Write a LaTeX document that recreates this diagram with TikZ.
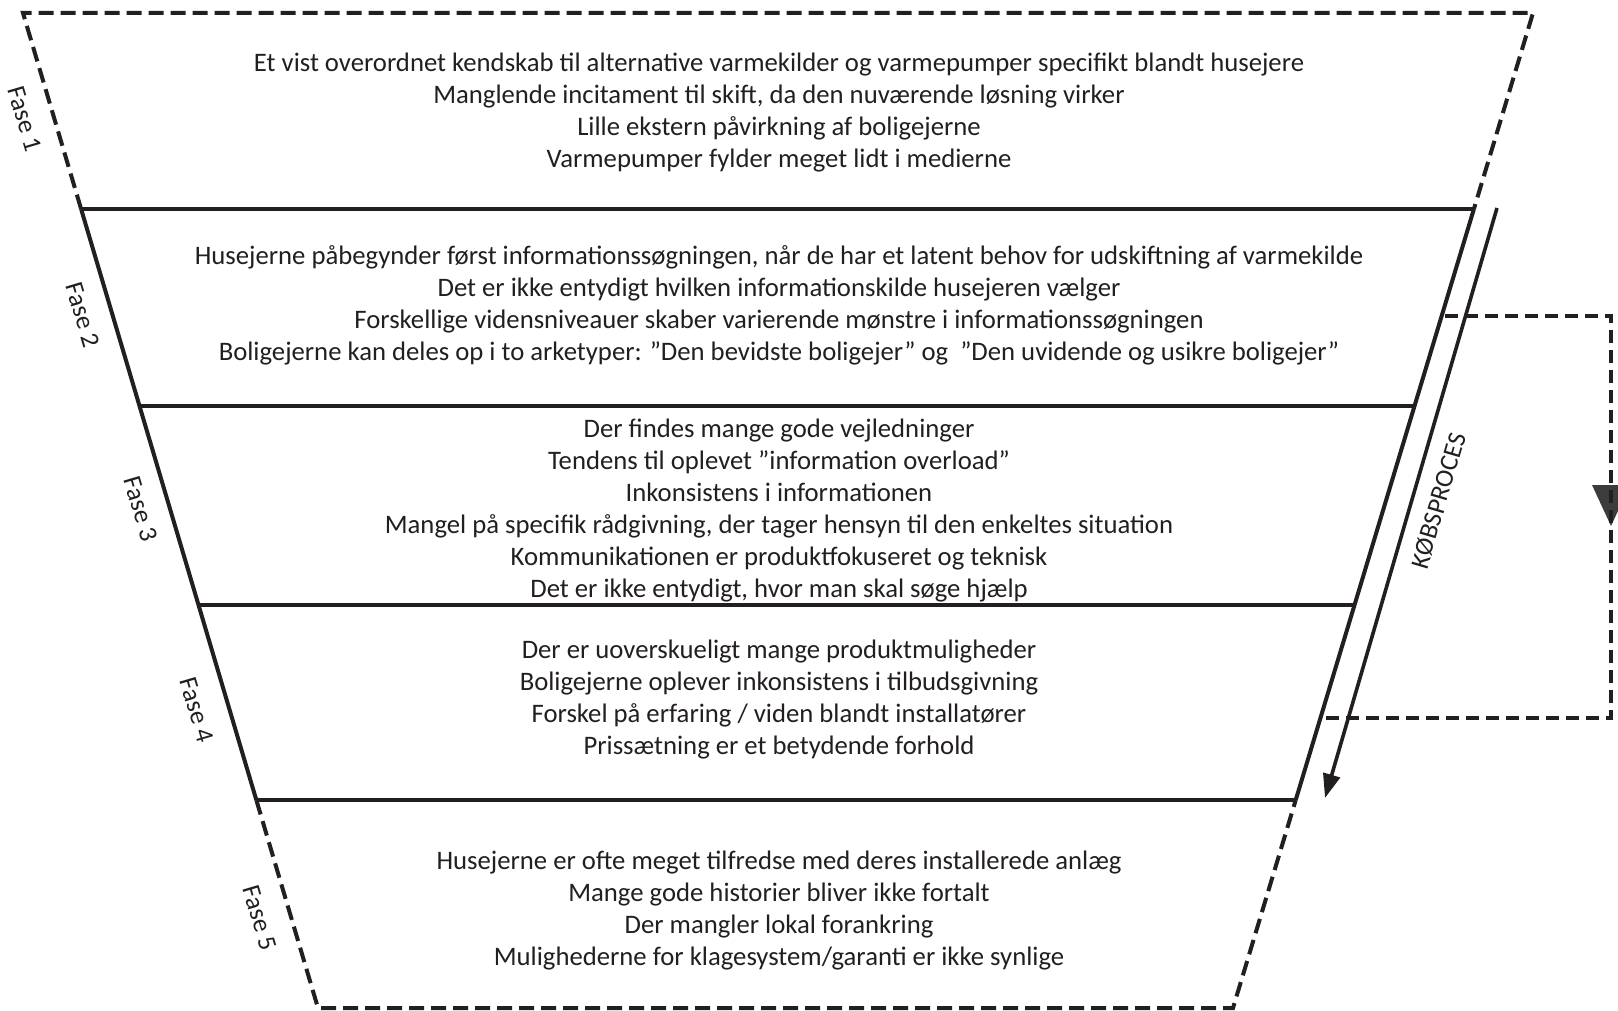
\documentclass[tikz,border=0pt]{standalone}
\usepackage{fontspec}
\setmainfont{Carlito}
\usetikzlibrary{calc,arrows.meta}
\definecolor{ink}{HTML}{231F20}
\definecolor{headgray}{HTML}{3C3C3C}
\begin{document}
\begin{tikzpicture}[x=1pt,y=-1pt,
  edge/.style={line width=4pt,draw=ink},
  dashedge/.style={line width=4pt,draw=ink,dash pattern=on 15pt off 7pt},
  looppath/.style={line width=3.6pt,draw=ink,dash pattern=on 13pt off 7pt},
  phasetext/.style={align=center,font=\fontsize{26.7}{32}\selectfont,text=ink,inner sep=0pt},
  phaselabel/.style={font=\fontsize{26}{30}\selectfont,text=ink,inner sep=0pt,rotate=-73.5},
  proclabel/.style={font=\fontsize{26}{30}\selectfont,text=ink,inner sep=0pt,rotate=73.7}]
\useasboundingbox[fill=white] (0,0) rectangle (1618,1011);

% funnel corners
\coordinate (TL) at (23,13);
\coordinate (TR) at (1533,13);
\coordinate (BL) at (318,1008);
\coordinate (BR) at (1233,1008);

% phase boundaries on both sides
\coordinate (L1) at ($(TL)!0.197!(BL)$);
\coordinate (R1) at ($(TR)!0.197!(BR)$);
\coordinate (L2) at ($(TL)!0.395!(BL)$);
\coordinate (R2) at ($(TR)!0.395!(BR)$);
\coordinate (L3) at ($(TL)!0.595!(BL)$);
\coordinate (R3) at ($(TR)!0.595!(BR)$);
\coordinate (L4) at ($(TL)!0.791!(BL)$);
\coordinate (R4) at ($(TR)!0.791!(BR)$);

% outer dashed parts
\draw[dashedge,line join=miter] (L1) -- (TL) -- (TR) -- (R1);
\draw[dashedge,line join=miter] (L4) -- (BL) -- (BR) -- (R4);
% solid sides
\draw[edge] (L1) -- (L4);
\draw[edge] (R1) -- (R4);
% dividers
\draw[edge] (L1) -- (R1);
\draw[edge] (L2) -- (R2);
\draw[edge] (L3) -- (R3);
\draw[edge] (L4) -- (R4);

% phase labels
\node[phaselabel] (f1) at (25,119) {Fase 1};
\node[phaselabel] (f2) at (83,315) {Fase 2};
\node[phaselabel] (f3) at (141,509) {Fase 3};
\node[phaselabel] (f4) at (197,710) {Fase 4};
\node[phaselabel] (f5) at (260,918) {Fase 5};

% phase contents
\node[phasetext] (p1) at (779,113) {Et vist overordnet kendskab til alternative varmekilder og varmepumper specifikt blandt husejere\\
Manglende incitament til skift, da den nuværende løsning virker\\
Lille ekstern påvirkning af boligejerne\\
Varmepumper fylder meget lidt i medierne};
\node[phasetext] (p2) at (779,305) {Husejerne påbegynder først informationssøgningen, når de har et latent behov for udskiftning af varmekilde\\
Det er ikke entydigt hvilken informationskilde husejeren vælger\\
Forskellige vidensniveauer skaber varierende mønstre i informationssøgningen\\
Boligejerne kan deles op i to arketyper: ”Den bevidste boligejer” og\ \ ”Den uvidende og usikre boligejer”};
\node[phasetext] (p3) at (779,511) {Der findes mange gode vejledninger\\
Tendens til oplevet ”information overload”\\
Inkonsistens i informationen\\
Mangel på specifik rådgivning, der tager hensyn til den enkeltes situation\\
Kommunikationen er produktfokuseret og teknisk\\
Det er ikke entydigt, hvor man skal søge hjælp};
\node[phasetext] (p4) at (779,700) {Der er uoverskueligt mange produktmuligheder\\
Boligejerne oplever inkonsistens i tilbudsgivning\\
Forskel på erfaring / viden blandt installatører\\
Prissætning er et betydende forhold};
\node[phasetext] (p5) at (779,911) {Husejerne er ofte meget tilfredse med deres installerede anlæg\\
Mange gode historier bliver ikke fortalt\\
Der mangler lokal forankring\\
Mulighederne for klagesystem/garanti er ikke synlige};

% purchase process arrow
\coordinate (A1) at (1497,208);
\coordinate (A2) at (1325,798);
\draw[line width=3.6pt,draw=ink,-{Triangle[length=24pt,width=17pt]}] (A1) -- (A2);
\node[proclabel] (kp) at (1439,501) {KØBSPROCES};

% feedback loop
\coordinate (S1) at (1445,316);
\coordinate (S2) at (1323,718);
\coordinate (LX) at (1611,0);
\fill[headgray] (1592,485) -- (1630,485) -- (1611,526) -- cycle;
\draw[looppath,line join=miter] (S1) -- (S1 -| LX) -- (S2 -| LX) -- (S2);
\end{tikzpicture}
\end{document}
